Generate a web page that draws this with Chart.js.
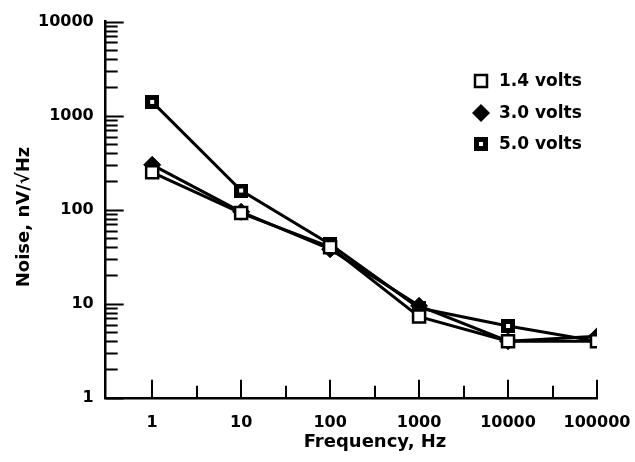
<!DOCTYPE html>
<html>
<head>
<meta charset="utf-8">
<script src="https://cdn.jsdelivr.net/npm/chart.js@4/dist/chart.umd.min.js"></script>
<style>
  html, body { margin: 0; padding: 0; background: #fff; }
  #wrap { width: 635px; height: 462px; }
</style>
</head>
<body>
<div id="wrap"><canvas id="noiseChart"></canvas></div>
<script>
// Noise spectral density vs frequency at three bias voltages
const frequencies = [1, 10, 100, 1000, 10000, 100000];
const noise14V = [250, 92, 40, 7.3, 4.0, 4.0];
const noise30V = [300, 95, 38, 9.5, 4.0, 4.5];
const noise50V = [1400, 160, 43, 9.0, 5.8, 4.0];
const seriesLabels = ['1.4 volts', '3.0 volts', '5.0 volts'];
const xTickValues = [1, 10, 100, 1000, 10000, 100000];
const yTickValues = [1, 10, 100, 1000, 10000];

const FONT = '"DejaVu Sans", sans-serif';

function toPoints(values) {
    return frequencies.map(function(f, i) { return { x: f, y: values[i] }; });
}

// black square with a small white dot, used for the 5.0 V series
function dottedSquare(size, dot) {
    const c = document.createElement('canvas');
    c.width = size;
    c.height = size;
    const g = c.getContext('2d');
    g.fillStyle = '#000';
    g.fillRect(0, 0, size, size);
    g.fillStyle = '#fff';
    g.fillRect((size - dot) / 2, (size - dot) / 2, dot, dot);
    return c;
}
const dotSquare = dottedSquare(14, 4);

// inward tick marks: decades + 2..9 on y, decades + half decades on x
const innerTicks = {
    id: 'innerTicks',
    afterDraw(chart) {
        const ctx = chart.ctx;
        const xs = chart.scales.x;
        const ys = chart.scales.y;
        const area = chart.chartArea;
        ctx.save();
        ctx.strokeStyle = '#000';
        ctx.lineWidth = 2;
        ctx.beginPath();
        for (let d = 0; d <= 4; d++) {
            for (let k = 1; k <= 9; k++) {
                const v = k * Math.pow(10, d);
                if (v > 10000) break;
                const py = Math.round(ys.getPixelForValue(v)) + 0.5;
                const len = k === 1 ? 18 : 12;
                ctx.moveTo(area.left, py);
                ctx.lineTo(area.left + len, py);
            }
        }
        for (let e = 0; e <= 5; e += 0.5) {
            const px = Math.round(xs.getPixelForValue(Math.pow(10, e)));
            const len = Number.isInteger(e) ? 18 : 12;
            ctx.moveTo(px, area.bottom);
            ctx.lineTo(px, area.bottom - len);
        }
        ctx.stroke();
        ctx.restore();
    }
};

// axis titles and the legend box inside the plot
const annotations = {
    id: 'annotations',
    afterDraw(chart) {
        const ctx = chart.ctx;
        ctx.save();
        ctx.fillStyle = '#000';
        ctx.font = 'bold 18px ' + FONT;
        ctx.textAlign = 'center';
        ctx.textBaseline = 'middle';
        ctx.fillText('Frequency, Hz', 375, 442);

        ctx.save();
        ctx.translate(24, 217);
        ctx.rotate(-Math.PI / 2);
        ctx.fillText('Noise, nV/\u221AHz', 0, 0);
        ctx.restore();

        // legend
        const lx = 481;
        const rows = [81, 113, 144];
        ctx.textAlign = 'left';
        ctx.font = 'bold 17px ' + FONT;
        rows.forEach(function(y, i) {
            if (i === 0) {
                ctx.fillStyle = '#fff';
                ctx.fillRect(lx - 6, y - 6, 12, 12);
                ctx.strokeStyle = '#000';
                ctx.lineWidth = 2.5;
                ctx.strokeRect(lx - 6, y - 6, 12, 12);
            } else if (i === 1) {
                ctx.fillStyle = '#000';
                ctx.beginPath();
                ctx.moveTo(lx, y - 9);
                ctx.lineTo(lx + 9, y);
                ctx.lineTo(lx, y + 9);
                ctx.lineTo(lx - 9, y);
                ctx.closePath();
                ctx.fill();
            } else {
                ctx.drawImage(dotSquare, lx - 7, y - 7);
            }
            ctx.fillStyle = '#000';
            ctx.fillText(seriesLabels[i], 499, y + 1);
        });
        ctx.restore();
    }
};

const commonLine = {
    borderColor: '#000',
    borderWidth: 3,
    pointBorderColor: '#000',
    pointBorderWidth: 2.5,
    tension: 0,
    showLine: true
};

new Chart(document.getElementById('noiseChart'), {
    type: 'scatter',
    data: {
        datasets: [
            Object.assign({}, commonLine, {
                label: seriesLabels[0],
                data: toPoints(noise14V),
                pointStyle: 'rect',
                pointRadius: 8.5,
                pointBackgroundColor: '#fff'
            }),
            Object.assign({}, commonLine, {
                label: seriesLabels[1],
                data: toPoints(noise30V),
                pointStyle: 'rectRot',
                pointRadius: 8.5,
                pointBorderWidth: 1,
                pointBackgroundColor: '#000'
            }),
            Object.assign({}, commonLine, {
                label: seriesLabels[2],
                data: toPoints(noise50V),
                pointStyle: dotSquare,
                pointRadius: 7
            })
        ]
    },
    options: {
        responsive: true,
        maintainAspectRatio: false,
        animation: false,
        layout: {
            padding: { left: 26, right: 38, top: 12, bottom: 15 }
        },
        plugins: {
            legend: { display: false },
            tooltip: { enabled: false }
        },
        scales: {
            x: {
                type: 'logarithmic',
                min: 0.32,
                max: 100000,
                afterBuildTicks: function(scale) {
                    scale.ticks = xTickValues.map(function(v) { return { value: v }; });
                },
                afterFit: function(scale) {
                    // the last label may hang into the right padding
                    scale.paddingRight = 0;
                },
                ticks: {
                    color: '#000',
                    font: { family: FONT, size: 16, weight: 'bold' },
                    padding: 15,
                    maxRotation: 0,
                    autoSkip: false,
                    callback: function(v) { return String(v); }
                },
                grid: { display: false, drawTicks: false },
                border: { display: true, color: '#000', width: 2.5 }
            },
            y: {
                type: 'logarithmic',
                min: 1,
                max: 10000,
                afterBuildTicks: function(scale) {
                    scale.ticks = yTickValues.map(function(v) { return { value: v }; });
                },
                ticks: {
                    color: '#000',
                    font: { family: FONT, size: 16, weight: 'bold' },
                    padding: 12,
                    autoSkip: false,
                    callback: function(v) { return String(v); }
                },
                grid: { display: false, drawTicks: false },
                border: { display: true, color: '#000', width: 2.5 }
            }
        }
    },
    plugins: [innerTicks, annotations]
});
</script>
</body>
</html>
